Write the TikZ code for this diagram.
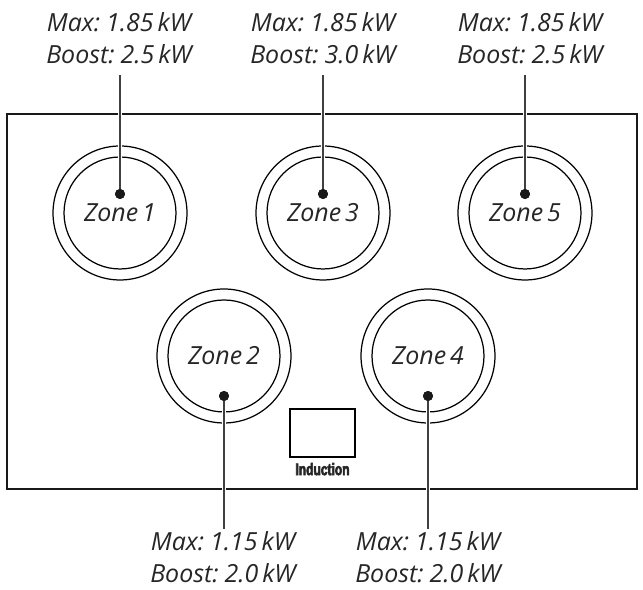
\documentclass[tikz,border=0pt]{standalone}
\usetikzlibrary{positioning}
\usepackage{fontspec}
\setmainfont[WordSpace=0.6]{Open Sans}
\newfontfamily\badgefont[FakeStretch=0.72,FakeBold=3.5]{Liberation Sans}
\tikzset{
	rating/.style={font=\fontsize{14.2}{18.4}\selectfont\itshape, align=center, text=black!85, inner sep=0},
	zone/.style={circle, draw, line width=0.7pt, minimum size=2.24cm, inner sep=0, font=\fontsize{14.2}{18}\selectfont\itshape, text=black!85},
	ring/.style={circle, draw, line width=0.7pt, minimum size=2.68cm},
	pin/.style={circle, fill=black!90, minimum size=0.2cm, inner sep=0},
	halo/.style={draw=white, line width=2.8pt},
	lead/.style={draw=black!75, line width=0.8pt}
}

\begin{document}
\begin{tikzpicture}[x=0.02cm, y=0.02cm]
	\useasboundingbox (0,0) rectangle (643,590);
	\draw [line width=1.2pt, black!90] (7,476) rectangle (637,101);
	% box and its badge
	\node [draw, line width=0.8pt, minimum width=1.3cm, minimum height=0.96cm, inner sep=0] (box) at (322.5,157) {};
	\node [below=0.1cm of box, inner sep=0, font=\badgefont\bfseries\fontsize{9.5}{10}\selectfont, text=black!85] (badge) {Induction};
	% back row
	\node [ring] (ring1) at (120,377) {};
	\node [zone] (zone1) at (120,377) {Zone 1};
	\node [ring] (ring3) at (323,377) {};
	\node [zone] (zone3) at (323,377) {Zone 3};
	\node [ring] (ring5) at (525,377) {};
	\node [zone] (zone5) at (525,377) {Zone 5};
	% front row
	\node [ring] (ring2) at (224,234) {};
	\node [zone] (zone2) at (224,234) {Zone 2};
	\node [ring] (ring4) at (428,234) {};
	\node [zone] (zone4) at (428,234) {Zone 4};
	% pins
	\node [pin] (pin1) at (120,396) {};
	\node [pin] (pin3) at (323,396) {};
	\node [pin] (pin5) at (525,396) {};
	\node [pin] (pin2) at (224,194) {};
	\node [pin] (pin4) at (428,194) {};
	% labels
	\node [rating] (label1) at (119,552) {Max: 1.85 kW\\Boost: 2.5 kW};
	\node [rating] (label3) at (323,552) {Max: 1.85 kW\\Boost: 3.0 kW};
	\node [rating] (label5) at (530,552) {Max: 1.85 kW\\Boost: 2.5 kW};
	\node [rating] (label2) at (223,33) {Max: 1.15 kW\\Boost: 2.0 kW};
	\node [rating] (label4) at (428,33) {Max: 1.15 kW\\Boost: 2.0 kW};
	% leader ends
	\coordinate (end1) at (120,515);
	\coordinate (end3) at (323,515);
	\coordinate (end5) at (525,515);
	\coordinate (end2) at (224,61);
	\coordinate (end4) at (428,61);
	% leaders, white first to cut the lines below
	\draw [halo] (end1) -- (pin1);
	\draw [halo] (end3) -- (pin3);
	\draw [halo] (end5) -- (pin5);
	\draw [halo] (end2) -- (pin2);
	\draw [halo] (end4) -- (pin4);
	\node [pin] at (pin1) {};
	\node [pin] at (pin3) {};
	\node [pin] at (pin5) {};
	\node [pin] at (pin2) {};
	\node [pin] at (pin4) {};
	\draw [lead] (end1) -- (pin1);
	\draw [lead] (end3) -- (pin3);
	\draw [lead] (end5) -- (pin5);
	\draw [lead] (end2) -- (pin2);
	\draw [lead] (end4) -- (pin4);
\end{tikzpicture}
\end{document}
